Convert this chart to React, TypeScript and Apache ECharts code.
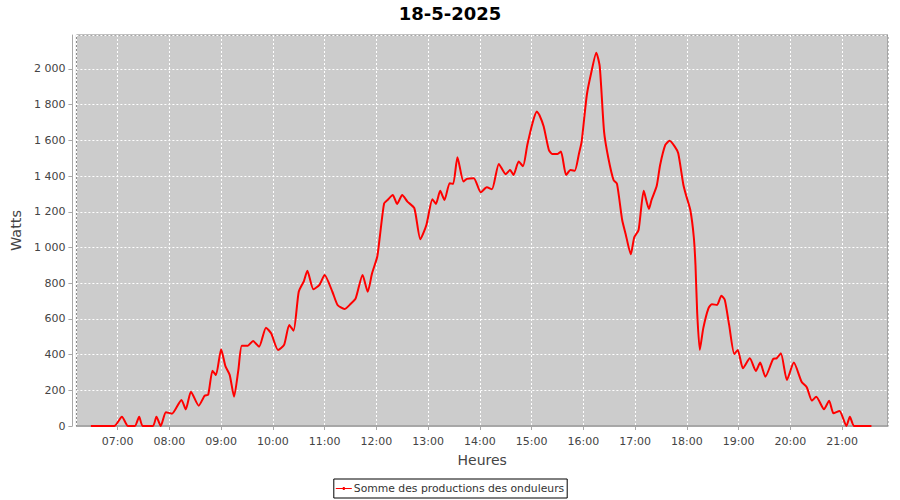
import React, { useEffect, useRef } from "react";
import * as echarts from "echarts";

const chartTitle = "18-5-2025";
const seriesName = "Somme des productions des onduleurs";
const xAxisName = "Heures";
const yAxisName = "Watts";

const times = [
  "06:29", "06:56", "07:05", "07:12", "07:20", "07:25", "07:29", "07:41", "07:45", "07:50",
  "07:56", "08:03", "08:14", "08:19", "08:25", "08:34", "08:41", "08:45", "08:50", "08:54",
  "09:00", "09:05", "09:10", "09:15", "09:20", "09:24", "09:31", "09:37", "09:44", "09:52",
  "09:58", "10:06", "10:13", "10:19", "10:24", "10:30", "10:36", "10:40", "10:47", "10:54",
  "11:00", "11:09", "11:15", "11:23", "11:30", "11:36", "11:44", "11:50", "11:55", "12:01",
  "12:04", "12:09", "12:13", "12:19", "12:24", "12:30", "12:36", "12:44", "12:51", "12:58",
  "13:05", "13:09", "13:14", "13:19", "13:25", "13:29", "13:34", "13:41", "13:45", "13:53",
  "14:01", "14:08", "14:14", "14:22", "14:30", "14:35", "14:39", "14:45", "14:50", "14:55",
  "15:01", "15:06", "15:09", "15:14", "15:20", "15:24", "15:30", "15:34", "15:40", "15:45",
  "15:50", "15:55", "15:58", "16:04", "16:09", "16:15", "16:19", "16:24", "16:29", "16:35",
  "16:39", "16:45", "16:49", "16:55", "16:59", "17:04", "17:10", "17:16", "17:19", "17:25",
  "17:29", "17:35", "17:40", "17:46", "17:50", "17:56", "17:59", "18:04", "18:08", "18:10",
  "18:12", "18:15", "18:19", "18:25", "18:29", "18:35", "18:40", "18:44", "18:49", "18:55",
  "18:59", "19:05", "19:13", "19:20", "19:25", "19:31", "19:40", "19:44", "19:49", "19:56",
  "20:04", "20:13", "20:19", "20:25", "20:30", "20:39", "20:45", "20:50", "20:57", "21:05",
  "21:09", "21:14", "21:34",
];

const watts = [
  0, 0, 52, 0, 0, 52, 0, 0, 52, 0,
  77, 69, 146, 93, 192, 114, 170, 175, 310, 285,
  430, 335, 285, 164, 314, 450, 450, 476, 444, 551,
  519, 426, 454, 566, 534, 752, 812, 870, 766, 790,
  846, 752, 678, 655, 683, 715, 846, 752, 855, 948,
  1060, 1247, 1266, 1294, 1244, 1294, 1257, 1220, 1046, 1126,
  1270, 1244, 1317, 1266, 1360, 1356, 1505, 1369, 1384, 1388,
  1309, 1337, 1326, 1468, 1410, 1434, 1406, 1481, 1455, 1574,
  1696, 1761, 1742, 1677, 1546, 1524, 1524, 1537, 1406, 1434,
  1430, 1528, 1593, 1854, 1976, 2091, 2013, 1649, 1500, 1378,
  1356, 1154, 1076, 962, 1057, 1098, 1317, 1216, 1266, 1344,
  1462, 1574, 1598, 1565, 1528, 1350, 1294, 1210, 1060, 900,
  631, 426, 547, 659, 682, 678, 730, 706, 566, 403,
  426, 323, 379, 308, 355, 276, 375, 379, 407, 258,
  355, 248, 217, 142, 164, 94, 142, 71, 84, 0,
  52, 0, 0,
];

const xMinTime = "06:12:12";
const xMaxTime = "21:53:12";
const yMax = 2190;
const yInterval = 200;

function ts(hhmm: string): number {
  const parts = hhmm.split(":").map(Number);
  return new Date(2025, 4, 18, parts[0], parts[1], parts[2] || 0).getTime();
}

function fmtThousands(v: number): string {
  return String(Math.round(v)).replace(/\B(?=(\d{3})+(?!\d))/g, " ");
}

const FONT = "DejaVu Sans";

export default function App() {
  const ref = useRef<HTMLDivElement>(null);

  useEffect(() => {
    if (!ref.current) return;
    const chart = echarts.init(ref.current, undefined, { renderer: "svg" });
    const data = times.map((t, i) => [ts(t), watts[i]]);
    chart.setOption({
      animation: false,
      backgroundColor: "#ffffff",
      textStyle: { fontFamily: FONT },
      title: {
        text: chartTitle,
        left: "center",
        top: 0,
        padding: [4, 5, 4, 5],
        textStyle: { fontFamily: FONT, fontSize: 18, fontWeight: "bold", color: "#000000" },
      },
      grid: {
        left: 75,
        right: 12,
        top: 35,
        bottom: 74,
        show: true,
        backgroundColor: "#cccccc",
        borderColor: "#808080",
        borderWidth: 1,
        containLabel: false,
      },
      legend: {
        bottom: 2,
        left: "center",
        data: [seriesName],
        borderColor: "#000000",
        borderWidth: 1,
        padding: [4, 3, 4, 2],
        itemWidth: 16,
        itemHeight: 6,
        itemGap: 2,
        icon: "path://M0,2.4H16V3.6H0Z M7,1.5H9V4.5H7Z",
        textStyle: { fontFamily: FONT, fontSize: 10.8, color: "#333333", padding: [0, 0, 0, -3] },
      },
      xAxis: {
        type: "time",
        min: ts(xMinTime),
        max: ts(xMaxTime),
        minInterval: 3600 * 1000,
        maxInterval: 3600 * 1000,
        offset: 4,
        name: xAxisName,
        nameLocation: "middle",
        nameGap: 23,
        nameTextStyle: { fontFamily: FONT, fontSize: 14, color: "#444444" },
        axisLine: { show: true, lineStyle: { color: "#a8a8a8", width: 1 } },
        axisTick: { show: true, length: 4, lineStyle: { color: "#a8a8a8" } },
        axisLabel: {
          formatter: "{HH}:{mm}",
          fontFamily: FONT,
          fontSize: 11,
          color: "#444444",
          margin: 6,
          showMinLabel: false,
          showMaxLabel: false,
        },
        splitLine: { show: true, lineStyle: { color: "#ffffff", type: [2, 2], width: 1 } },
      },
      yAxis: {
        type: "value",
        min: 0,
        max: yMax,
        interval: yInterval,
        offset: 4,
        name: yAxisName,
        nameLocation: "middle",
        nameGap: 43,
        nameRotate: 90,
        nameTextStyle: { fontFamily: FONT, fontSize: 14.5, color: "#444444" },
        axisLine: { show: true, lineStyle: { color: "#a8a8a8", width: 1 } },
        axisTick: { show: true, length: 4, lineStyle: { color: "#a8a8a8" } },
        axisLabel: {
          formatter: (v: number) => fmtThousands(v),
          fontFamily: FONT,
          fontSize: 11,
          color: "#444444",
          margin: 7,
          showMaxLabel: false,
        },
        splitLine: { show: true, lineStyle: { color: "#ffffff", type: [2, 2], width: 1 } },
      },
      series: [
        {
          name: seriesName,
          type: "line",
          data,
          showSymbol: false,
          symbol: "none",
          smooth: 0.2,
          lineStyle: { color: "#ff0000", width: 2 },
          itemStyle: { color: "#ff0000" },
        },
      ],
    });
    return () => chart.dispose();
  }, []);

  return (
    <div
      ref={ref}
      style={{ position: "absolute", left: 0, top: 0, width: 900, height: 500 }}
    />
  );
}
